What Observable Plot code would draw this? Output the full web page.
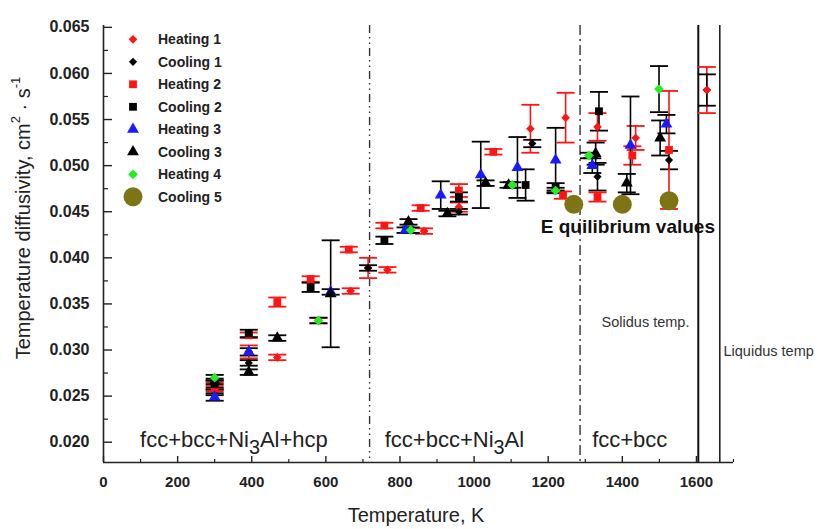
<!DOCTYPE html>
<html><head><meta charset="utf-8">
<script src="https://cdn.jsdelivr.net/npm/d3@7"></script>
<script src="https://cdn.jsdelivr.net/npm/@observablehq/plot@0.6"></script>
<style>
html,body{margin:0;padding:0;background:#fff;}
#chart svg{display:block;font-family:"Liberation Sans",Arial,sans-serif;}
</style></head><body><div id="chart"></div>
<script>
// ---- data: [temperature K, diffusivity cm2/s, error half-width] ----
const heating1 = [[300,0.0261,0.0004],[392,0.0298,0.0007],[469,0.0292,0.0003],[580,0.0332,0.0003],[667,0.0364,0.0003],[714,0.0389,0.0011],[766,0.0387,0.0003],[865,0.0429,0.0003],[959,0.0455,0.0005],[1152,0.0540,0.0026],[1247,0.0552,0.0027],[1333,0.0542,0.0015],[1436,0.0530,0.0013],[1628,0.0582,0.0025]];
const cooling1 = [[300,0.0254,0.0003],[392,0.0286,0.0003],[714,0.0389,0.0003],[959,0.0450,0.0003],[1157,0.0524,0.0004],[1333,0.0488,0.0015],[1526,0.0506,0.0010],[1628,0.0582,0.0017]];
const heating2 = [[300,0.0258,0.0003],[392,0.0316,0.0003],[469,0.0352,0.0005],[559,0.0377,0.0003],[662,0.0409,0.0003],[758,0.0435,0.0003],[856,0.0454,0.0003],[959,0.0473,0.0007],[1052,0.0515,0.0003],[1240,0.0468,0.0004],[1333,0.0466,0.0005],[1427,0.0511,0.0010],[1526,0.0517,0.0064]];
const cooling2 = [[300,0.0263,0.0004],[392,0.0318,0.0004],[559,0.0368,0.0005],[758,0.0419,0.0004],[959,0.0466,0.0005],[1139,0.0479,0.0017],[1220,0.0477,0.0004],[1337,0.0559,0.0021]];
const heating3 = [[300,0.0249,0.0004],[392,0.0298,0.0004],[613,0.0363,0.0003],[815,0.0430,0.0003],[910,0.0468,0.0015],[1018,0.0490,0.0036],[1117,0.0498,0.0033],[1220,0.0506,0.0035],[1319,0.0500,0.0008],[1422,0.0522,0.0053],[1519,0.0545,0.0010]];
const cooling3 = [[300,0.0266,0.0003],[392,0.0276,0.0003],[469,0.0313,0.0003],[613,0.0361,0.0058],[823,0.0439,0.0003],[928,0.0448,0.0003],[1031,0.0481,0.0003],[1093,0.0479,0.0003],[1328,0.0513,0.0012],[1412,0.0481,0.0010],[1502,0.0530,0.0019]];
const heating4 = [[300,0.0270,0.0003],[580,0.0332,0.0003],[829,0.0430,0.0003],[1103,0.0479,0.0003],[1220,0.0473,0.0003],[1310,0.0511,0.0003],[1499,0.0583,0.0025]];
const cooling5 = [[1269,0.0458,0],[1400,0.0458,0],[1526,0.0462,0]];

const seriesNames = ["Heating 1","Cooling 1","Heating 2","Cooling 2","Heating 3","Cooling 3","Heating 4","Cooling 5"];
const seriesData = [heating1,cooling1,heating2,cooling2,heating3,cooling3,heating4,cooling5];

const xTicks = [0,200,400,600,800,1000,1200,1400,1600];
const xMinorTicks = [100,300,500,700,900,1100,1300,1500,1700];
const yTicks = [0.020,0.025,0.030,0.035,0.040,0.045,0.050,0.055,0.060,0.065];
const yMinorTicks = [0.0225,0.0275,0.0325,0.0375,0.0425,0.0475,0.0525,0.0575,0.0625];

const phaseBoundaries = [718, 1286];      // K
const solidus = 1605, liquidus = 1663;   // K

const regionLabels = [
  {text:"fcc+bcc+Ni3Al+hcp", t:352, v:0.0202},
  {text:"fcc+bcc+Ni3Al", t:947, v:0.0202},
  {text:"fcc+bcc", t:1420, v:0.0202}
];

// ---- styles ----
const RED="#ff1414", BLUE="#1a1aff", GREEN="#22ee22", OLIVE="#7d7515", BLACK="#000";
const styles = {
  "Heating 1":{symbol:"diamond2", fill:RED, r:3.9, bar:RED},
  "Cooling 1":{symbol:"diamond2", fill:BLACK, r:3.7, bar:BLACK},
  "Heating 2":{symbol:"square", fill:RED, r:4.4, bar:RED},
  "Cooling 2":{symbol:"square", fill:BLACK, r:4.4, bar:BLACK},
  "Heating 3":{symbol:"triangle", fill:BLUE, r:4.4, bar:BLACK},
  "Cooling 3":{symbol:"triangle", fill:BLACK, r:4.4, bar:BLACK},
  "Heating 4":{symbol:"diamond2", fill:GREEN, r:4.4, bar:BLACK},
  "Cooling 5":{symbol:"circle", fill:OLIVE, r:9.5, bar:BLACK}
};

const capSymbol = {draw(ctx, size){ const r = Math.sqrt(size/Math.PI); ctx.moveTo(-r,0); ctx.lineTo(r,0); }};

const barMarks = [], dotMarks = [], liquidMarks = [];
seriesNames.forEach((name,i) => {
  const st = styles[name];
  const rows = seriesData[i].map(([t,v,e]) => ({t,v,e}));
  const withErr = rows.filter(d => d.e > 0);
  barMarks.push(
    Plot.ruleX(withErr, {x:"t", y1:d=>d.v-d.e, y2:d=>d.v+d.e, stroke:st.bar, strokeWidth:1.6}),
    Plot.dot(withErr, {x:"t", y:d=>d.v+d.e, symbol:capSymbol, r:9, stroke:st.bar, fill:"none", strokeWidth:1.8}),
    Plot.dot(withErr, {x:"t", y:d=>d.v-d.e, symbol:capSymbol, r:9, stroke:st.bar, fill:"none", strokeWidth:1.8})
  );
  // heating points above the solidus are drawn on top
  const front = name.startsWith("Heating");
  dotMarks.push(Plot.dot(front ? rows.filter(d => d.t < solidus) : rows, {x:"t", y:"v", symbol:st.symbol, r:st.r, fill:st.fill, stroke:"none"}));
  if (front) liquidMarks.push(Plot.dot(rows.filter(d => d.t >= solidus), {x:"t", y:"v", symbol:st.symbol, r:st.r, fill:st.fill, stroke:"none"}));
});

const plot = Plot.plot({
  width:819, height:529,
  marginLeft:103, marginRight:86, marginTop:25, marginBottom:67,
  x:{domain:[0,1700]},
  y:{domain:[0.0178,0.0652]},
  style:{fontFamily:"'Liberation Sans', Arial, sans-serif", color:"#222", background:"#fff"},
  marks:[
    Plot.ruleX(phaseBoundaries.slice(0,1), {stroke:"#333", strokeWidth:1.4, strokeDasharray:"8,4,1.5,4,1.5,4"}),
    Plot.ruleX(phaseBoundaries.slice(1), {stroke:"#333", strokeWidth:1.4, strokeDasharray:"10,4,2,4"}),
    Plot.ruleX([solidus], {stroke:"#111", strokeWidth:2}),
    Plot.ruleX([liquidus], {stroke:"#222", strokeWidth:1.6}),
    Plot.axisY({ticks:yTicks, tickSize:-9, tickPadding:23, tickFormat:d3.format(".3f"), fontSize:16, fontWeight:"bold", label:null, stroke:"#222", strokeWidth:1.4}),
    Plot.axisY({ticks:yMinorTicks, tickSize:-5, tickFormat:()=>"", label:null, stroke:"#222", strokeWidth:1.2}),
    Plot.axisX({ticks:xTicks, tickSize:-6, tickPadding:20, tickFormat:d3.format("d"), fontSize:15, fontWeight:"bold", label:null, stroke:"#222", strokeWidth:1.4}),
    Plot.axisX({ticks:xMinorTicks, tickSize:-3, tickFormat:()=>"", label:null, stroke:"#222", strokeWidth:1.2}),
    Plot.ruleX([0], {stroke:"#222", strokeWidth:1.6}),
    Plot.ruleY([0.0178], {stroke:"#222", strokeWidth:1.6}),
    ...barMarks,
    ...dotMarks,
    ...liquidMarks,
    Plot.text(regionLabels, {x:"t", y:"v", text:"text", fontSize:22, fill:"#222", textAnchor:"middle"}),
    Plot.text(["E quilibrium values"], {x:1180, y:0.0434, text:d=>d, fontSize:19, fontWeight:"bold", fill:"#111", textAnchor:"start"}),
    Plot.text(["Solidus temp."], {x:1344, y:0.0330, text:d=>d, fontSize:14.5, fill:"#333", textAnchor:"start"}),
    Plot.text(["Liquidus temp"], {x:1673, y:0.0299, text:d=>d, fontSize:14.5, fill:"#333", textAnchor:"start"})
  ]
});

document.getElementById("chart").appendChild(plot);
const svg = d3.select(plot);

// subscript 3 in Ni3Al
svg.selectAll("text").each(function(){
  const el = d3.select(this);
  if (el.selectAll("tspan").size()) return;
  const s = el.text();
  const k = s.indexOf("Ni3Al");
  if (k < 0) return;
  el.text("");
  el.append("tspan").text(s.slice(0,k+2));
  el.append("tspan").attr("dy",7).attr("font-size","0.9em").text("3");
  el.append("tspan").attr("dy",-7).text(s.slice(k+3));
});

// axis titles
const yt = svg.append("text").attr("transform","translate(23,218) rotate(-90)")
  .attr("text-anchor","middle").attr("dominant-baseline","central")
  .attr("font-size",20).attr("fill","#222");
yt.append("tspan").text("Temperature diffusivity, cm");
yt.append("tspan").attr("dy",-8).attr("font-size",13).text("2");
yt.append("tspan").attr("dy",8).text(" \u00B7 s");
yt.append("tspan").attr("dy",-8).attr("font-size",13).text("-1");

svg.append("text").attr("x",416).attr("y",522).attr("text-anchor","middle")
  .attr("font-size",20).attr("fill","#222").text("Temperature, K");

// legend
const lg = svg.append("g");
const symMap = {diamond2:d3.symbolDiamond2, square:d3.symbolSquare, triangle:d3.symbolTriangle, circle:d3.symbolCircle};
seriesNames.forEach((name,i) => {
  const st = styles[name];
  const y = 39.3 + i*22.5;
  const size = Math.PI*st.r*st.r;
  lg.append("path").attr("transform",`translate(133,${y})`)
    .attr("d", d3.symbol(symMap[st.symbol], size)()).attr("fill", st.fill);
  lg.append("text").attr("x",158).attr("y",y).attr("dominant-baseline","central")
    .attr("text-anchor","start")
    .attr("font-size",14).attr("font-weight","bold").attr("fill","#222").text(name);
});
</script></body></html>
